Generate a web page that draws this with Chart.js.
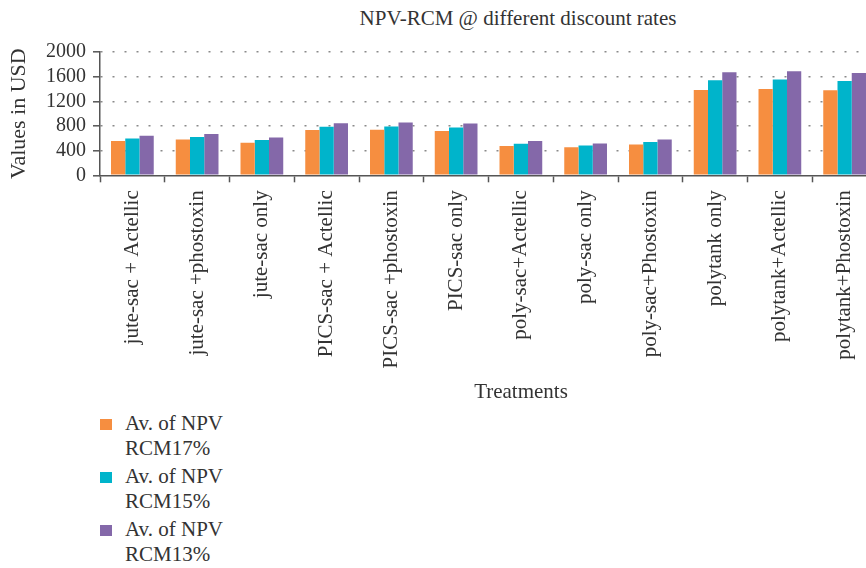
<!DOCTYPE html>
<html>
<head>
<meta charset="utf-8">
<script src="https://cdn.jsdelivr.net/npm/chart.js@4/dist/chart.umd.min.js"></script>
<style>
    html, body { margin: 0; padding: 0; background: #fff; overflow: hidden; }
    body { width: 866px; height: 568px; position: relative; font-family: 'Liberation Serif', serif; color: #333; }
    #wrap { position: absolute; left: 0; top: 0; width: 890px; height: 400px; }
    .title { position: absolute; left: 0; width: 1036px; text-align: center; font-size: 21px; line-height: 24px; }
    #legend { position: absolute; left: 100px; top: 411px; font-size: 21px; line-height: 24.5px; }
    .item { position: relative; padding-left: 25px; margin-bottom: 4px; }
    .item span { position: absolute; left: 0; top: 8px; width: 12px; height: 11px; }
</style>
</head>
<body>
<div class="title" style="top:6px">NPV-RCM @ different discount rates</div>
<div id="wrap"><canvas id="chart"></canvas></div>
<div class="title" style="top:379px; width:1042px">Treatments</div>
<div id="legend"></div>
<script>
document.addEventListener("DOMContentLoaded", function () {
    // Data
    const categories = [
        'jute-sac + Actellic', 'jute-sac +phostoxin', 'jute-sac only',
        'PICS-sac + Actellic', 'PICS-sac +phostoxin', 'PICS-sac only',
        'poly-sac+Actellic', 'poly-sac only', 'poly-sac+Phostoxin',
        'polytank only', 'polytank+Actellic', 'polytank+Phostoxin'
    ];
    const npv17 = [555, 582, 528, 733, 738, 717, 474, 453, 501, 1385, 1401, 1380];
    const npv15 = [598, 620, 571, 787, 793, 777, 512, 485, 539, 1542, 1553, 1531];
    const npv13 = [641, 668, 615, 846, 857, 841, 555, 517, 582, 1671, 1688, 1660];
    const seriesNames = ['Av. of NPV\nRCM17%', 'Av. of NPV\nRCM15%', 'Av. of NPV\nRCM13%'];
    const colors = ['#F68E40', '#00B4CB', '#8468A9'];
    const yTicks = [0, 400, 800, 1200, 1600, 2000];

    const axisColor = '#555';
    const fam = "'Liberation Serif', serif";

    const ctx = document.getElementById('chart').getContext('2d');
    const chart = new Chart(ctx, {
        type: 'bar',
        data: {
            labels: categories,
            datasets: [npv17, npv15, npv13].map((d, i) => ({
                label: seriesNames[i],
                data: d,
                backgroundColor: colors[i],
                borderWidth: 0,
                categoryPercentage: 0.66,
                barPercentage: 1.0
            }))
        },
        options: {
            responsive: true,
            maintainAspectRatio: false,
            animation: false,
            layout: { padding: { top: 52, right: 13, left: 0, bottom: 0 } },
            plugins: {
                legend: { display: false },
                tooltip: { enabled: false }
            },
            scales: {
                x: {
                    afterFit: s => { s.height = 224.7; },
                    grid: {
                        drawOnChartArea: false,
                        tickLength: 7,
                        tickColor: axisColor,
                        tickWidth: 1.5
                    },
                    border: { display: true, color: axisColor, width: 1.5 },
                    ticks: {
                        autoSkip: false,
                        maxRotation: 90,
                        minRotation: 90,
                        padding: 8,
                        color: '#333',
                        font: { family: fam, size: 21 }
                    }
                },
                y: {
                    min: yTicks[0],
                    max: yTicks[yTicks.length - 1],
                    afterFit: s => { s.width = 100; },
                    afterBuildTicks: s => { s.ticks = yTicks.map(v => ({ value: v })); },
                    grid: {
                        color: c => c.tick && c.tick.value === 0 ? 'rgba(0,0,0,0)' : '#8a8a8a',
                        lineWidth: 1.6,
                        tickLength: 7,
                        tickColor: axisColor,
                        tickWidth: 1.5,
                        tickBorderDash: []
                    },
                    border: { display: true, color: axisColor, width: 1.5, dash: [2, 10] },
                    ticks: {
                        autoSkip: false,
                        padding: 7,
                        color: '#333',
                        font: { family: fam, size: 20 },
                        callback: v => String(v)
                    },
                    title: {
                        display: true,
                        text: 'Values in USD',
                        color: '#333',
                        font: { family: fam, size: 22 },
                        padding: { top: 6, bottom: 0 }
                    }
                }
            }
        }
    });

    // Legend with wrapped labels
    const legend = document.getElementById('legend');
    chart.data.datasets.forEach(ds => {
        const item = document.createElement('div');
        item.className = 'item';
        const box = document.createElement('span');
        box.style.background = ds.backgroundColor;
        item.appendChild(box);
        ds.label.split('\n').forEach((line, i) => {
            if (i) item.appendChild(document.createElement('br'));
            item.appendChild(document.createTextNode(line));
        });
        legend.appendChild(item);
    });
});
</script>
</body>
</html>
